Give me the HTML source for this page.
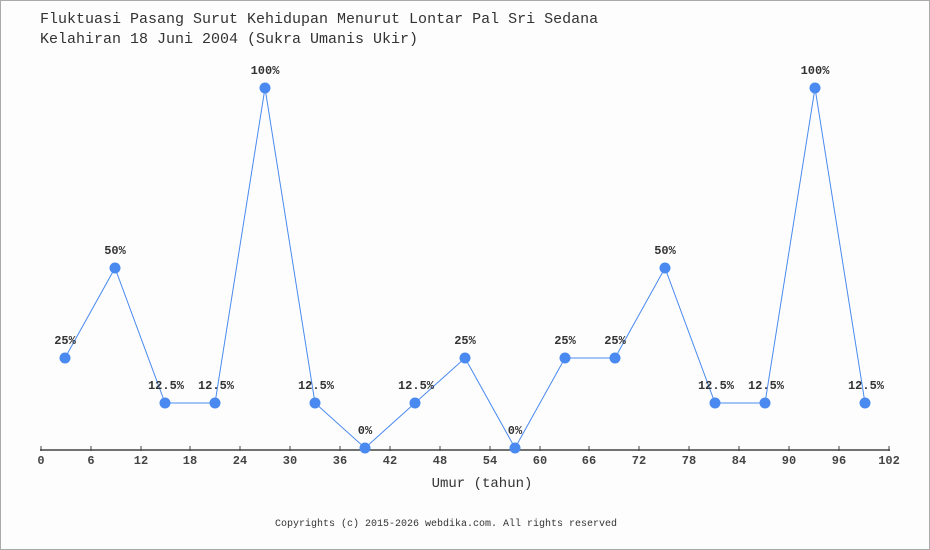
<!DOCTYPE html>
<html><head><meta charset="utf-8"><style>
body{margin:0;background:#fff}
svg{display:block;font-family:"Liberation Mono",monospace}
</style></head><body>
<svg width="930" height="550" xmlns="http://www.w3.org/2000/svg">
<rect x="0" y="0" width="930" height="550" fill="#fdfdfd"/>
<rect x="0.5" y="0.5" width="929" height="549" fill="none" stroke="#aaa" stroke-width="1"/>
<text x="40" y="23" font-size="15" fill="#333">Fluktuasi Pasang Surut Kehidupan Menurut Lontar Pal Sri Sedana</text>
<text x="40" y="43" font-size="15" fill="#333">Kelahiran 18 Juni 2004 (Sukra Umanis Ukir)</text>
<line x1="40" y1="450" x2="890" y2="450" stroke="#444" stroke-width="1.5"/>
<g stroke="#444" stroke-width="1">
<line x1="41" y1="446" x2="41" y2="451"/><line x1="91" y1="446" x2="91" y2="451"/><line x1="141" y1="446" x2="141" y2="451"/><line x1="190" y1="446" x2="190" y2="451"/><line x1="240" y1="446" x2="240" y2="451"/><line x1="290" y1="446" x2="290" y2="451"/><line x1="340" y1="446" x2="340" y2="451"/><line x1="390" y1="446" x2="390" y2="451"/><line x1="440" y1="446" x2="440" y2="451"/><line x1="490" y1="446" x2="490" y2="451"/><line x1="540" y1="446" x2="540" y2="451"/><line x1="589" y1="446" x2="589" y2="451"/><line x1="639" y1="446" x2="639" y2="451"/><line x1="689" y1="446" x2="689" y2="451"/><line x1="739" y1="446" x2="739" y2="451"/><line x1="789" y1="446" x2="789" y2="451"/><line x1="839" y1="446" x2="839" y2="451"/><line x1="889" y1="446" x2="889" y2="451"/>
</g>
<g font-size="12" font-weight="bold" fill="#444" text-anchor="middle">
<text x="41" y="464">0</text><text x="91" y="464">6</text><text x="141" y="464">12</text><text x="190" y="464">18</text><text x="240" y="464">24</text><text x="290" y="464">30</text><text x="340" y="464">36</text><text x="390" y="464">42</text><text x="440" y="464">48</text><text x="490" y="464">54</text><text x="540" y="464">60</text><text x="589" y="464">66</text><text x="639" y="464">72</text><text x="689" y="464">78</text><text x="739" y="464">84</text><text x="789" y="464">90</text><text x="839" y="464">96</text><text x="889" y="464">102</text>
</g>
<text x="482" y="487" font-size="14" fill="#333" text-anchor="middle">Umur (tahun)</text>
<text x="446" y="526" font-size="10" fill="#333" text-anchor="middle">Copyrights (c) 2015-2026 webdika.com. All rights reserved</text>
<polyline fill="none" stroke="#4a8af0" stroke-width="1" points="65,358 115,268 165,403 215,403 265,88 315,403 365,448 415,403 465,358 515,448 565,358 615,358 665,268 715,403 765,403 815,88 865,403"/>
<g fill="#4a8af0">
<circle cx="65" cy="358" r="5.5"/><circle cx="115" cy="268" r="5.5"/><circle cx="165" cy="403" r="5.5"/><circle cx="215" cy="403" r="5.5"/><circle cx="265" cy="88" r="5.5"/><circle cx="315" cy="403" r="5.5"/><circle cx="365" cy="448" r="5.5"/><circle cx="415" cy="403" r="5.5"/><circle cx="465" cy="358" r="5.5"/><circle cx="515" cy="448" r="5.5"/><circle cx="565" cy="358" r="5.5"/><circle cx="615" cy="358" r="5.5"/><circle cx="665" cy="268" r="5.5"/><circle cx="715" cy="403" r="5.5"/><circle cx="765" cy="403" r="5.5"/><circle cx="815" cy="88" r="5.5"/><circle cx="865" cy="403" r="5.5"/>
</g>
<g font-size="12" font-weight="bold" fill="#333" text-anchor="middle">
<text x="65" y="344">25%</text><text x="115" y="254">50%</text><text x="166" y="389">12.5%</text><text x="216" y="389">12.5%</text><text x="265" y="74">100%</text><text x="316" y="389">12.5%</text><text x="365" y="434">0%</text><text x="416" y="389">12.5%</text><text x="465" y="344">25%</text><text x="515" y="434">0%</text><text x="565" y="344">25%</text><text x="615" y="344">25%</text><text x="665" y="254">50%</text><text x="716" y="389">12.5%</text><text x="766" y="389">12.5%</text><text x="815" y="74">100%</text><text x="866" y="389">12.5%</text>
</g>
</svg>
</body></html>
